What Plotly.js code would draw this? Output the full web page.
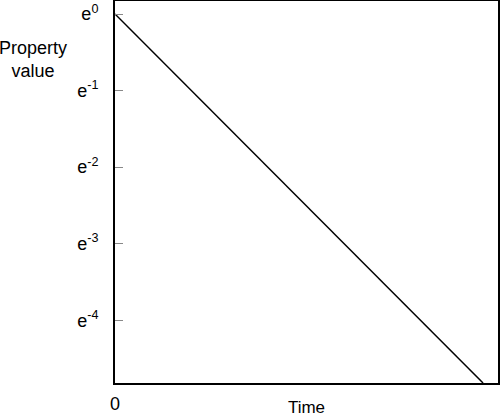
<!DOCTYPE html>
<html><head><meta charset="utf-8">
<script src="https://cdn.plot.ly/plotly-3.0.1.min.js"></script>
<style>html,body{margin:0;padding:0;background:#fff}</style>
</head><body><div id="c" style="width:500px;height:417px"></div>
<script>
// Exponential decay: time (fraction of axis) vs property value
const timeVals = [0, 0.961];
const lnVals = [0, -4.82];           // natural log of property value
const propertyVals = lnVals.map(v => Math.exp(v));
const tickPowers = [0, -1, -2, -3, -4];
const tickLabels = tickPowers.map(p => 'e<sup>' + p + '</sup>');
const yRangeLn = [-4.82, 0.17];

const font = {family: 'Liberation Sans, Arial, sans-serif', size: 18, color: '#000'};
Plotly.newPlot('c', [{
  x: timeVals, y: propertyVals, mode: 'lines', type: 'scatter',
  line: {color: '#000', width: 1.5}, hoverinfo: 'skip'
}], {
  width: 500, height: 417,
  margin: {l: 115, r: 2, t: 1, b: 34},
  paper_bgcolor: '#fff', plot_bgcolor: '#fff',
  showlegend: false, font: font,
  xaxis: {
    range: [0, 1], showgrid: false, zeroline: false,
    showline: true, mirror: true, linecolor: '#000', linewidth: 2,
    tickvals: [0], ticktext: ['0'], ticks: '', ticklabelstandoff: 3,
    title: {text: 'Time', font: {family: font.family, size: 17, color: '#000'}, standoff: 5}, automargin: false
  },
  yaxis: {
    type: 'log',
    range: yRangeLn.map(v => v / Math.LN10),
    showgrid: false, zeroline: false,
    showline: true, mirror: true, linecolor: '#000', linewidth: 2,
    tickvals: tickPowers.map(p => Math.exp(p)), ticktext: tickLabels,
    ticks: 'inside', ticklen: 8, tickcolor: '#888', tickwidth: 1,
    ticklabelstandoff: 11, automargin: false
  },
  annotations: [{
    text: 'Property<br>value', xref: 'paper', yref: 'paper',
    x: -0.214, y: 0.846, xanchor: 'center', yanchor: 'middle',
    showarrow: false, font: font, align: 'center'
  }]
}, {displayModeBar: false, staticPlot: true});
</script></body></html>
